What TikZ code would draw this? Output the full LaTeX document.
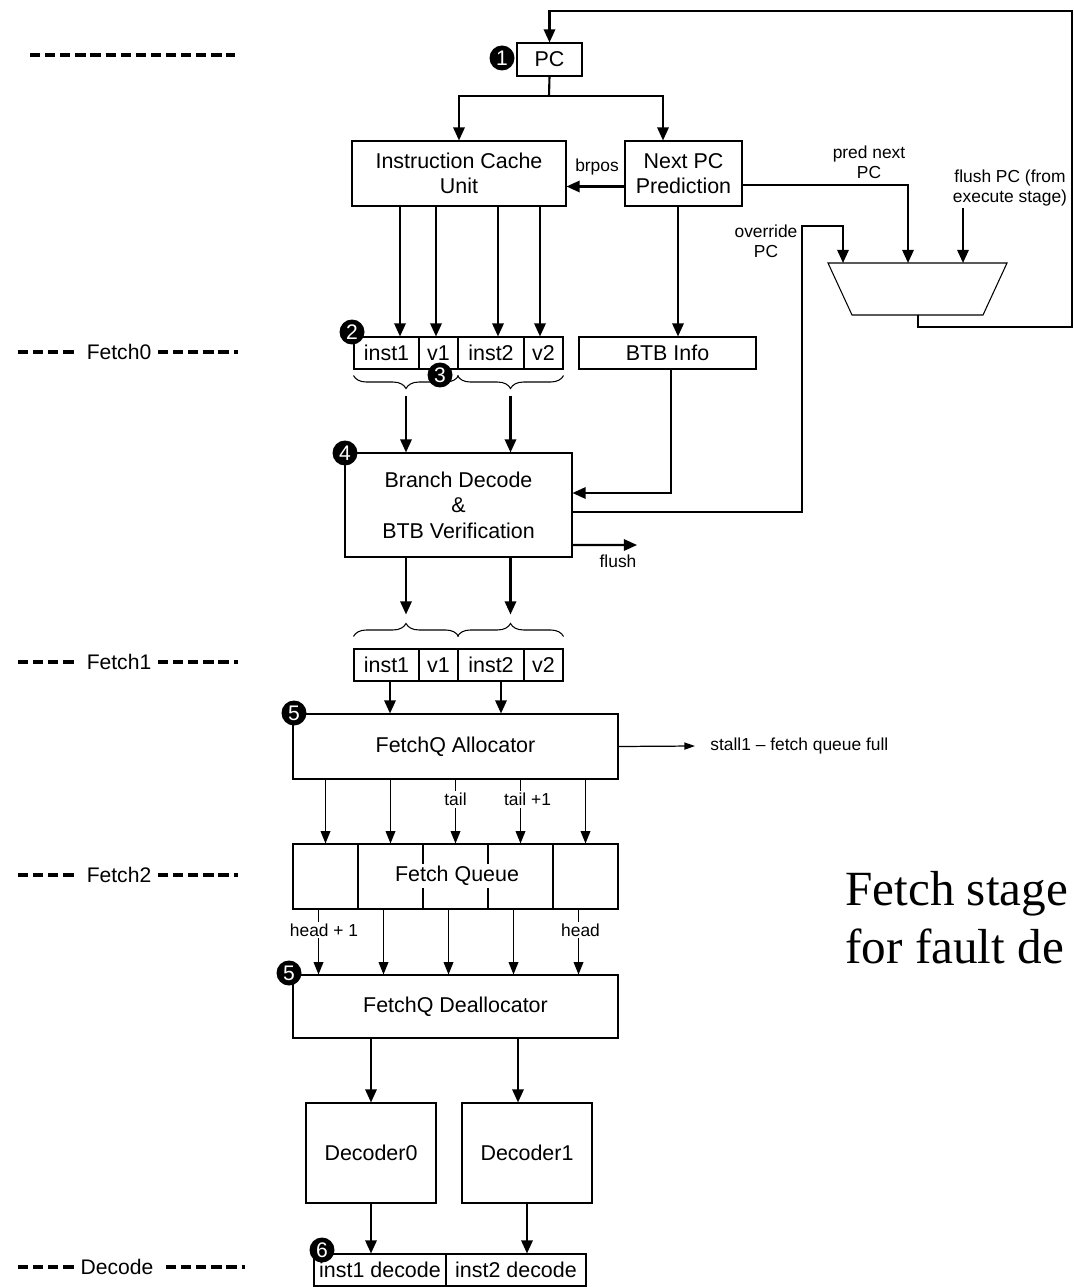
\documentclass[tikz,border=0pt]{standalone}
\usepackage{fontspec}
\setmainfont{Liberation Sans}
\newfontfamily\titlefont{Liberation Serif}
\usetikzlibrary{arrows.meta,decorations.pathreplacing,calc}
\tikzset{
  blk/.style={draw,line width=0.6pt,inner sep=0pt,align=center,font=\fontsize{12.2}{14.6}\selectfont},
  sz/.style 2 args={minimum width=#1*0.02cm,minimum height=#2*0.02cm},
  lbl/.style={inner sep=1pt,align=center,font=\fontsize{9.9}{11.6}\selectfont},
  badge/.style={circle,fill=black,text=white,inner sep=0pt,minimum size=0.5cm,font=\fontsize{12}{12}\selectfont},
  arr/.style={line width=1.2pt,-{Triangle[length=7.5pt,width=6.5pt]}},
  tarr/.style={line width=0.7pt,-{Triangle[length=7pt,width=5.5pt]}},
  stg/.style={inner sep=0pt,font=\fontsize{12}{14}\selectfont},
  stgdash/.style={line width=1.8pt,dash pattern=on 5.8pt off 2.8pt},
  brcd/.style={decorate,line width=0.6pt,decoration={brace,mirror,amplitude=0.26cm}},
  brcu/.style={decorate,line width=0.6pt,decoration={brace,amplitude=0.26cm}},
}
\begin{document}
\begin{tikzpicture}[x=0.02cm,y=-0.02cm]
\useasboundingbox (0,0) rectangle (1074,1287);
\draw[stgdash] (30,55) -- (235,55);
\node[stg] (s0) at (119,352) {Fetch0};
\draw[stgdash] (18,352) -- (78,352);
\draw[stgdash] (158,352) -- (238,352);
\node[stg] (s1) at (119,662) {Fetch1};
\draw[stgdash] (18,662) -- (78,662);
\draw[stgdash] (158,662) -- (238,662);
\node[stg] (s2) at (119,875) {Fetch2};
\draw[stgdash] (18,875) -- (78,875);
\draw[stgdash] (158,875) -- (238,875);
\node[stg] (s3) at (117,1267) {Decode};
\draw[stgdash] (18,1267) -- (78,1267);
\draw[stgdash] (166,1267) -- (245,1267);

\node[blk,sz={65}{33}] (pc) at (549.5,59.5) {PC};
\node[blk,sz={214}{65}] (icu) at (459,173.5) {Instruction Cache\\Unit};
\node[blk,sz={117}{65}] (npc) at (683.5,173.5) {Next PC\\Prediction};
\node[blk,sz={65}{32}] (f0a) at (386.5,353) {inst1};
\node[blk,sz={39}{32}] (f0b) at (438.5,353) {v1};
\node[blk,sz={66}{32}] (f0c) at (491,353) {inst2};
\node[blk,sz={39}{32}] (f0d) at (543.5,353) {v2};
\node[blk,sz={177}{32}] (btb) at (667.5,353) {BTB Info};
\node[blk,sz={227}{104}] (bd) at (458.5,505) {Branch Decode\\\&\\BTB Verification};
\node[blk,sz={65}{32}] (f1a) at (386.5,665) {inst1};
\node[blk,sz={39}{32}] (f1b) at (438.5,665) {v1};
\node[blk,sz={66}{32}] (f1c) at (491,665) {inst2};
\node[blk,sz={39}{32}] (f1d) at (543.5,665) {v2};
\node[blk,sz={325}{65}] (alloc) at (455.5,746.5) {FetchQ Allocator};
\foreach \i/\x in {1/325.5,2/390.5,3/455.5,4/520.5,5/585.5}
  \node[blk,sz={65}{65}] (q\i) at (\x,876.5) {};
\node[blk,draw=none,fill=white,inner sep=1pt] (fq) at (457,876) {Fetch Queue};
\node[blk,sz={325}{63}] (dealloc) at (455.5,1006.5) {FetchQ Deallocator};
\node[blk,sz={130}{100}] (dec0) at (371,1153) {Decoder0};
\node[blk,sz={130}{100}] (dec1) at (527,1153) {Decoder1};
\node[blk,sz={132}{32}] (di1) at (380,1270) {inst1 decode};
\node[blk,sz={140}{32}] (di2) at (516,1270) {inst2 decode};

\coordinate (mtl) at (828,263);
\coordinate (mtr) at (1007,263);
\coordinate (mbr) at (983,315);
\coordinate (mbl) at (852,315);
\draw[line width=0.6pt] (mtl) -- (mtr) -- (mbr) -- (mbl) -- cycle;
\coordinate (min1) at (843,263);
\coordinate (min2) at (908,263);
\coordinate (min3) at (963,263);
\coordinate (mout) at (918,315);
\coordinate (fbr) at (1072,327);
\coordinate (fbt) at (1072,11);
\coordinate (ovr) at (802,226);
\coordinate (split) at (549,96);
\coordinate (flend) at (637,545);

\node[lbl] (lbrpos) at (597,167) {brpos};
\node[lbl] (lpred) at (869,162) {pred next\\PC};
\node[lbl] (lflush) at (1010,188) {flush PC (from\\execute stage)};
\node[lbl] (lovr) at (766,241) {override\\PC};
\node[lbl] (lfl) at (618,561) {flush};
\node[lbl,anchor=west,inner sep=0pt] (stall) at (710,746) {stall1 – fetch queue full};

\draw[arr] (mout) |- (fbr) -- (fbt) -| (pc.north);
\draw[line width=1.2pt] (pc.south) -- (split);
\draw[arr] (split) -| (icu.north);
\draw[arr] (split) -| ([xshift=-0.41cm]npc.north);
\draw[arr] ([yshift=-0.26cm]npc.west) -- ([yshift=-0.26cm]icu.east);
\draw[arr] ([yshift=-0.23cm]npc.east) -| (min2);
\draw[arr] (lflush.south -| min3) -- (min3);
\draw[arr] ([yshift=-0.14cm]bd.east) -| (ovr) -| (min1);
\foreach \s/\c in {-59/f0a,-23/f0b,39/f0c,81/f0d}
  \draw[arr] ([xshift=\s*0.02cm]icu.south) -- ([xshift=\s*0.02cm]icu.south |- \c.north);
\draw[arr] ([xshift=-0.11cm]npc.south) -- ([xshift=-0.11cm]npc.south |- btb.north);

\draw[brcd] ([yshift=-0.12cm]f0a.south west) -- ([yshift=-0.12cm]f0b.south east);
\draw[brcd] ([yshift=-0.12cm]f0c.south west) -- ([yshift=-0.12cm]f0d.south east);
\coordinate (t0l) at ($(f0a.south west)!.5!(f0b.south east)+(0,26)$);
\coordinate (t0r) at ($(f0c.south west)!.5!(f0d.south east)+(0,26)$);
\draw[arr] (t0l) -- (t0l |- bd.north);
\draw[arr] (t0r) -- (t0r |- bd.north);
\draw[arr] ([xshift=0.07cm]btb.south) |- ([yshift=0.24cm]bd.east);
\draw[arr] ([yshift=-0.8cm]bd.east) -- (flend);

\draw[brcu] ([yshift=0.24cm]f1a.north west) -- ([yshift=0.24cm]f1b.north east);
\draw[brcu] ([yshift=0.24cm]f1c.north west) -- ([yshift=0.24cm]f1d.north east);
\coordinate (t1l) at ($(f1a.north west)!.5!(f1b.north east)+(0,-34)$);
\coordinate (t1r) at ($(f1c.north west)!.5!(f1d.north east)+(0,-34)$);
\draw[arr] (t1l |- bd.south) -- (t1l);
\draw[arr] (t1r |- bd.south) -- (t1r);
\draw[arr] ([xshift=0.07cm]f1a.south) -- ([xshift=0.07cm]f1a.south |- alloc.north);
\draw[arr] ([xshift=0.2cm]f1c.south) -- ([xshift=0.2cm]f1c.south |- alloc.north);

\draw[line width=0.7pt,-{Triangle[length=6pt,width=4pt]}] (alloc.east) -- ([xshift=-0.3cm]stall.west);
\foreach \i in {1,2,5}
  \draw[tarr] (q\i.north |- alloc.south) -- (q\i.north);
\draw[tarr] (q3.north |- alloc.south) -- node[lbl,fill=white,pos=0.31] (ltail) {tail} (q3.north);
\draw[tarr] (q4.north |- alloc.south) -- node[lbl,fill=white,pos=0.31,xshift=0.14cm] (ltail1) {tail +1} (q4.north);
\foreach \i in {2,3,4}
  \draw[tarr] ([xshift=-0.14cm]q\i.south) -- ([xshift=-0.14cm]q\i.south |- dealloc.north);
\draw[tarr] ([xshift=-0.14cm]q1.south) -- node[lbl,fill=white,pos=0.32,xshift=0.11cm] (lhead1) {head + 1} ([xshift=-0.14cm]q1.south |- dealloc.north);
\draw[tarr] ([xshift=-0.14cm]q5.south) -- node[lbl,fill=white,pos=0.32,xshift=0.04cm] (lhead) {head} ([xshift=-0.14cm]q5.south |- dealloc.north);

\draw[arr] (dec0.north |- dealloc.south) -- (dec0.north);
\draw[arr] ([xshift=-0.18cm]dec1.north |- dealloc.south) -- ([xshift=-0.18cm]dec1.north);
\draw[arr] (dec0.south) -- (dec0.south |- di1.north);
\draw[arr] (dec1.south) -- (dec1.south |- di2.north);

\node[badge] (b1) at (502,58) {1};
\node[badge] (b2) at (352,332) {2};
\node[badge] (b3) at (440,375) {3};
\node[badge] (b4) at (345,453) {4};
\node[badge] (b5) at (294,713) {5};
\node[badge] (b5b) at (289,973) {5};
\node[badge] (b6) at (322,1250) {6};

\node[anchor=base west,inner sep=0pt,font=\titlefont\fontsize{28}{33}\selectfont] (title1) at (845,905) {Fetch stage};
\node[anchor=base west,inner sep=0pt,font=\titlefont\fontsize{28}{33}\selectfont] (title2) at (845,963) {for fault de};
\end{tikzpicture}
\end{document}
